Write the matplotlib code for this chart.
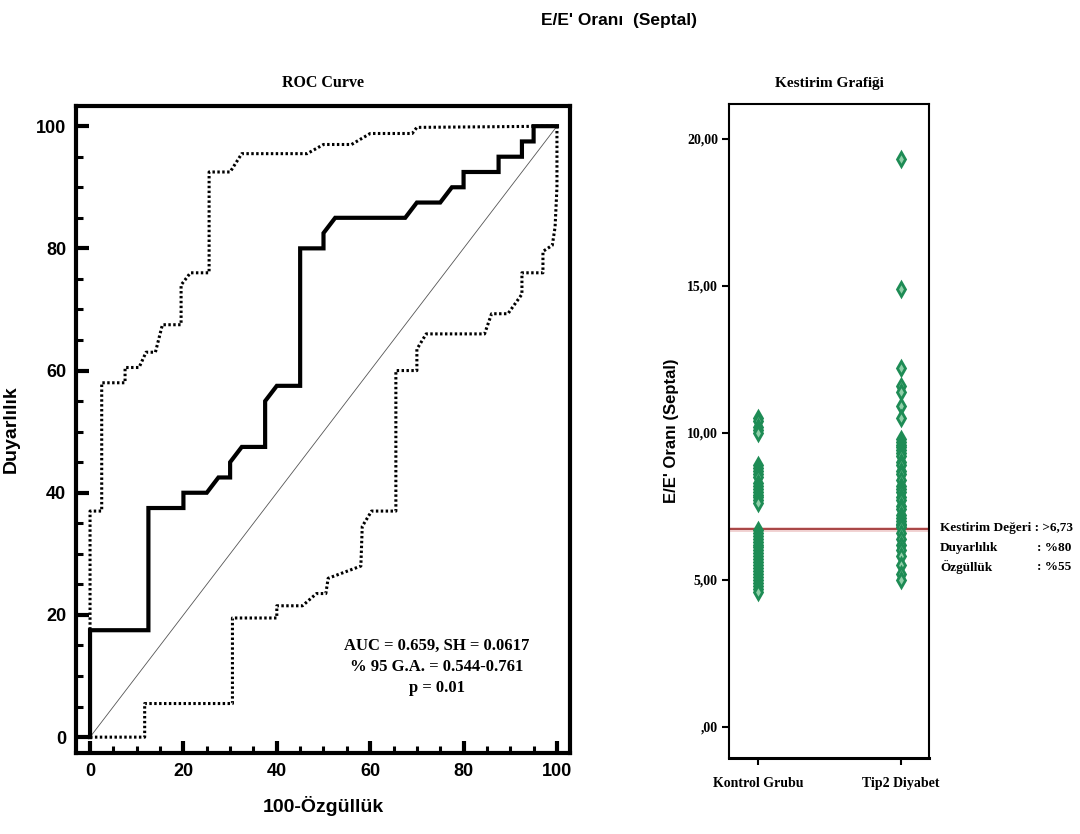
import matplotlib
matplotlib.use('Agg')
import numpy as np
from matplotlib import pyplot as plt
from matplotlib.ticker import MultipleLocator

# ROC egrisi (100-Ozgulluk, Duyarlilik)
roc_x = [0, 0, 12.5, 12.5, 20, 20, 25, 27.5, 30, 30, 32.5, 37.5, 37.5, 40, 45, 45, 50, 50,
         52.5, 67.5, 70, 75, 77.5, 80, 80, 87.5, 87.5, 92.5, 92.5, 95, 95, 100]
roc_y = [0, 17.5, 17.5, 37.5, 37.5, 40, 40, 42.5, 42.5, 45, 47.5, 47.5, 55, 57.5, 57.5, 80, 80, 82.5,
         85, 85, 87.5, 87.5, 90, 90, 92.5, 92.5, 95, 95, 97.5, 97.5, 100, 100]

# %95 guven araligi - ust sinir
ci_up_x = [0, 0, 2.5, 2.5, 7.5, 7.5, 10.5, 12, 14, 15.5, 19.5, 19.5, 21.5, 25.5, 25.5, 30, 32.5,
           46.5, 50, 56, 60, 69, 70, 100]
ci_up_y = [0, 37, 37, 58, 58, 60.5, 60.5, 63, 63, 67.5, 67.5, 74, 76, 76, 92.5, 92.5, 95.5,
           95.5, 97, 97, 98.8, 98.8, 99.8, 100]

# %95 guven araligi - alt sinir
ci_lo_x = [0, 11.7, 11.7, 30.5, 30.5, 40, 40, 45.5, 48.5, 50.5, 51, 58, 58.3, 60.3, 65.5, 65.5,
           70, 70, 72, 84.5, 86, 89.5, 92.5, 92.5, 97, 97, 99, 99.6, 100, 100]
ci_lo_y = [0, 0, 5.5, 5.5, 19.5, 19.5, 21.5, 21.5, 23.5, 23.5, 26, 28, 34.5, 37, 37, 60,
           60, 63.5, 66, 66, 69.3, 69.3, 72.5, 76, 76, 79.5, 80.5, 83.5, 90, 100]

roc_text = 'AUC = 0.659, SH = 0.0617\n% 95 G.A. = 0.544-0.761\np = 0.01'

# Kestirim grafigi
groups = ['Kontrol Grubu', 'Tip2 Diyabet']
kontrol = [10.5, 10.4, 10.2, 10.1, 10.0,
           8.9, 8.8, 8.7, 8.6, 8.5, 8.3, 8.2, 8.1, 8.0, 7.9, 7.8, 7.7, 7.6,
           6.7, 6.6, 6.5, 6.4, 6.3, 6.2, 6.1, 6.0, 5.9, 5.8, 5.7, 5.6, 5.5, 5.4,
           5.3, 5.2, 5.1, 5.0, 4.9, 4.8, 4.7, 4.6]
tip2 = [19.3, 14.9, 12.2, 11.6, 11.4, 10.9, 10.5,
        9.8, 9.7, 9.6, 9.5, 9.4, 9.3, 9.2, 9.0, 8.9, 8.7, 8.6, 8.4, 8.2, 8.1, 8.0,
        7.8, 7.7, 7.5, 7.4, 7.2, 7.1, 7.0, 6.9, 6.85, 6.8,
        6.6, 6.4, 6.2, 6.0, 5.8, 5.5, 5.2, 5.0]
cutoff = 6.73
y_ticks = [0, 5, 10, 15, 20]
y_ticklabels = [',00', '5,00', '10,00', '15,00', '20,00']

sans = 'Liberation Sans'
serif = 'Liberation Serif'
green = '#1e8c55'

fig = plt.figure(figsize=(10.8, 8.34), dpi=100)
fig.text(0.573, 0.976, "E/E' Oranı  (Septal)", ha='center', va='center',
         fontsize=12.5, fontweight='bold', family=sans)

# ---- sol: ROC ----
ax = fig.add_axes([0.0704, 0.0971, 0.4574, 0.7758])
ax.plot([0, 100], [0, 100], color='#555555', lw=0.6)
ax.plot(ci_up_x, ci_up_y, color='black', lw=2.2, linestyle=(0, (0.8, 0.8)))
ax.plot(ci_lo_x, ci_lo_y, color='black', lw=2.2, linestyle=(0, (0.8, 0.8)))
ax.plot(roc_x, roc_y, color='black', lw=3, solid_joinstyle='miter')
ax.set_xlim(-3, 102.8)
ax.set_ylim(-2.6, 103.3)
ax.xaxis.set_major_locator(MultipleLocator(20))
ax.yaxis.set_major_locator(MultipleLocator(20))
ax.xaxis.set_minor_locator(MultipleLocator(5))
ax.yaxis.set_minor_locator(MultipleLocator(5))
ax.tick_params(which='major', direction='in', length=9, width=3, pad=7, labelsize=13)
ax.tick_params(which='minor', direction='in', length=5, width=2.2)
for lab in ax.get_xticklabels() + ax.get_yticklabels():
    lab.set_fontweight('bold')
    lab.set_family(sans)
for s in ax.spines.values():
    s.set_linewidth(3)
ax.set_title('ROC Curve', fontsize=11.5, fontweight='bold', family=serif, pad=14)
ax.set_xlabel('100-Özgüllük', fontsize=14, fontweight='bold', family=sans, labelpad=12)
ax.set_ylabel('Duyarlılık', fontsize=14, fontweight='bold', family=sans, labelpad=12)
ax.text(74.3, 11.5, roc_text, ha='center', va='center', multialignment='center',
        fontsize=12, fontweight='bold', family=serif, linespacing=1.45)

# ---- sag: kestirim grafigi ----
bx = fig.add_axes([0.675, 0.0911, 0.1852, 0.7842])
bx.axhline(cutoff, color='#f0d0d0', lw=3.5, zorder=1)
bx.axhline(cutoff, color='#a84444', lw=1.4, zorder=2)
for i, vals in enumerate([kontrol, tip2]):
    bx.plot([i] * len(vals), vals, linestyle='none', marker='d', markersize=7,
            markerfacecolor='#8fcfa8', markeredgecolor=green, markeredgewidth=2,
            zorder=3)
bx.set_xlim(-0.206, 1.2)
bx.set_ylim(-1.06, 21.18)
bx.set_xticks([0, 1])
bx.set_xticklabels(groups)
bx.set_yticks(y_ticks)
bx.set_yticklabels(y_ticklabels)
bx.tick_params(direction='out', length=5, width=1.5, labelsize=10, pad=3)
bx.tick_params(axis='x', pad=9)
for lab in bx.get_xticklabels() + bx.get_yticklabels():
    lab.set_fontweight('bold')
    lab.set_family(serif)
for s in bx.spines.values():
    s.set_linewidth(1.5)
bx.spines['bottom'].set_linewidth(2.2)
bx.set_title('Kestirim Grafiği', fontsize=11, fontweight='bold', family=serif, pad=12)
bx.set_ylabel("E/E' Oranı (Septal)", fontsize=12, fontweight='bold', family=sans, labelpad=6)

tx = 940 / 1080
fs = 9.5
fig.text(tx, 1 - 528 / 834, 'Kestirim Değeri : >6,73', ha='left', va='center',
         fontsize=fs, fontweight='bold', family=serif)
fig.text(tx, 1 - 548 / 834, 'Duyarlılık', ha='left', va='center',
         fontsize=fs, fontweight='bold', family=serif)
fig.text(tx, 1 - 567 / 834, 'Özgüllük', ha='left', va='center',
         fontsize=fs, fontweight='bold', family=serif)
fig.text(1037 / 1080, 1 - 548 / 834, ': %80', ha='left', va='center',
         fontsize=fs, fontweight='bold', family=serif)
fig.text(1037 / 1080, 1 - 567 / 834, ': %55', ha='left', va='center',
         fontsize=fs, fontweight='bold', family=serif)

fig.savefig('out.png', dpi=100)
